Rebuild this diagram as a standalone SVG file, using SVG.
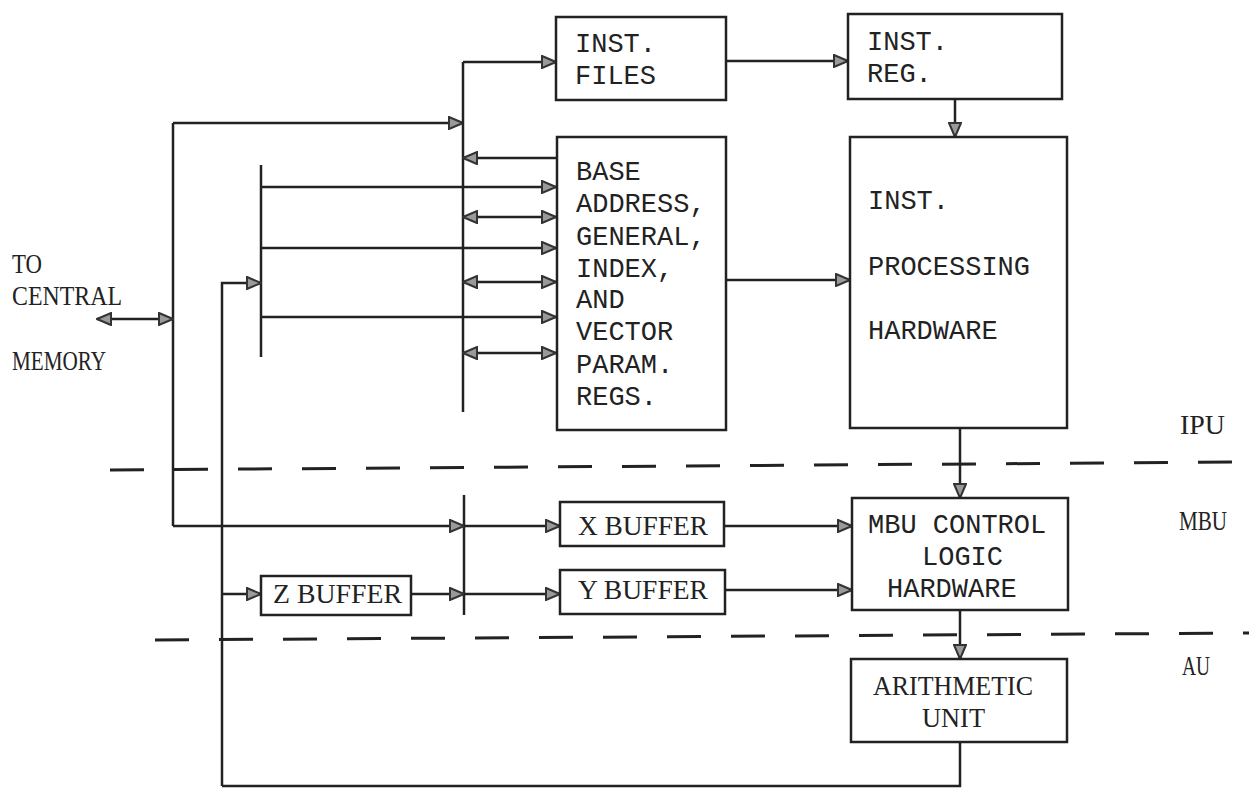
<svg xmlns="http://www.w3.org/2000/svg" width="1249" height="790" viewBox="0 0 1249 790">
<style>
.box{fill:#fff;stroke:#222;stroke-width:2.5}
.ln{fill:none;stroke:#222;stroke-width:2.5}
.dash{fill:none;stroke:#222;stroke-width:3;stroke-dasharray:34 30}
.tm{font-family:"Liberation Mono",monospace;font-size:27px;fill:#222}
.ts{font-family:"Liberation Serif",serif;font-size:27px;fill:#222}
.a{marker-end:url(#ah)}
.aa{marker-end:url(#ah);marker-start:url(#ah)}
</style>
<defs>
<marker id="ah" viewBox="0 0 16 14" refX="15" refY="7" markerWidth="16" markerHeight="14" orient="auto-start-reverse" markerUnits="userSpaceOnUse">
<path d="M1,1 L15,7 L1,13 Z" fill="#9a9a9a" stroke="#333" stroke-width="2"/>
</marker>
</defs>
<rect width="1249" height="790" fill="#fff"/>

<g id="dividers">
<path class="dash" d="M110 470 L1249 462"/>
<path class="dash" d="M155 640 L1249 633"/>
</g>

<g id="connectors">
<path class="ln" d="M173 123 L173 526"/>
<path class="ln a" d="M173 123 L463 123"/>
<path class="ln" d="M463 62 L463 412"/>
<path class="ln a" d="M463 62 L556 62"/>
<path class="ln" d="M261 165 L261 357"/>
<path class="ln a" d="M222 786 L222 283 L261 283"/>
<path class="ln" d="M960 742 L960 786 L222 786"/>
<path class="ln aa" d="M97 319 L173 319"/>
<path class="ln a" d="M556 158 L463 158"/>
<path class="ln a" d="M261 187 L556 187"/>
<path class="ln aa" d="M463 217 L556 217"/>
<path class="ln a" d="M261 248 L556 248"/>
<path class="ln aa" d="M463 282 L556 282"/>
<path class="ln a" d="M261 317 L556 317"/>
<path class="ln aa" d="M463 353 L556 353"/>
<path class="ln a" d="M726 61 L848 61"/>
<path class="ln a" d="M955 99 L955 137"/>
<path class="ln a" d="M726 280 L850 280"/>
<path class="ln a" d="M960 428 L960 498"/>
<path class="ln a" d="M960 610 L960 659"/>
<path class="ln" d="M464 495 L464 615"/>
<path class="ln a" d="M173 526 L464 526"/>
<path class="ln a" d="M464 526 L560 526"/>
<path class="ln a" d="M222 594 L261 594"/>
<path class="ln a" d="M411 594 L464 594"/>
<path class="ln a" d="M464 594 L560 594"/>
<path class="ln a" d="M724 526 L852 526"/>
<path class="ln a" d="M725 590 L852 590"/>
</g>

<g id="inst-files">
<rect class="box" x="556" y="17" width="170" height="83"/>
<text class="tm" x="575" y="52">INST.</text>
<text class="tm" x="575" y="84">FILES</text>
</g>

<g id="inst-reg">
<rect class="box" x="848" y="14" width="214" height="85"/>
<text class="tm" x="867" y="50">INST.</text>
<text class="tm" x="867" y="82">REG.</text>
</g>

<g id="registers">
<rect class="box" x="557" y="137" width="169" height="293"/>
<text class="tm" x="576" y="180">BASE</text>
<text class="tm" x="576" y="212">ADDRESS,</text>
<text class="tm" x="576" y="245">GENERAL,</text>
<text class="tm" x="576" y="277">INDEX,</text>
<text class="tm" x="576" y="308">AND</text>
<text class="tm" x="576" y="340">VECTOR</text>
<text class="tm" x="576" y="373">PARAM.</text>
<text class="tm" x="576" y="405">REGS.</text>
</g>

<g id="inst-processing">
<rect class="box" x="850" y="137" width="217" height="291"/>
<text class="tm" x="868" y="209">INST.</text>
<text class="tm" x="868" y="275">PROCESSING</text>
<text class="tm" x="868" y="339">HARDWARE</text>
</g>

<g id="x-buffer">
<rect class="box" x="560" y="502" width="164" height="44"/>
<text class="ts" x="578" y="535" textLength="130" lengthAdjust="spacingAndGlyphs">X BUFFER</text>
</g>

<g id="y-buffer">
<rect class="box" x="560" y="570" width="165" height="44"/>
<text class="ts" x="578" y="599" textLength="130" lengthAdjust="spacingAndGlyphs">Y BUFFER</text>
</g>

<g id="z-buffer">
<rect class="box" x="261" y="576" width="150" height="39"/>
<text class="ts" x="273" y="603" textLength="129" lengthAdjust="spacingAndGlyphs">Z BUFFER</text>
</g>

<g id="mbu-control">
<rect class="box" x="852" y="498" width="216" height="112"/>
<text class="tm" x="868" y="533">MBU CONTROL</text>
<text class="tm" x="922" y="565">LOGIC</text>
<text class="tm" x="887" y="597">HARDWARE</text>
</g>

<g id="arithmetic-unit">
<rect class="box" x="851" y="659" width="216" height="83"/>
<text class="ts" x="873" y="695" textLength="160" lengthAdjust="spacingAndGlyphs">ARITHMETIC</text>
<text class="ts" x="922" y="727" textLength="63" lengthAdjust="spacingAndGlyphs">UNIT</text>
</g>

<g id="central-memory">
<text class="ts" x="12" y="273" textLength="30" lengthAdjust="spacingAndGlyphs">TO</text>
<text class="ts" x="12" y="305" textLength="110" lengthAdjust="spacingAndGlyphs">CENTRAL</text>
<text class="ts" x="12" y="370" textLength="94" lengthAdjust="spacingAndGlyphs">MEMORY</text>
</g>

<g id="section-labels">
<text class="ts" x="1180" y="434" textLength="45" lengthAdjust="spacingAndGlyphs">IPU</text>
<text class="ts" x="1179" y="530" textLength="48" lengthAdjust="spacingAndGlyphs">MBU</text>
<text class="ts" x="1182" y="675" textLength="28" lengthAdjust="spacingAndGlyphs">AU</text>
</g>
</svg>
